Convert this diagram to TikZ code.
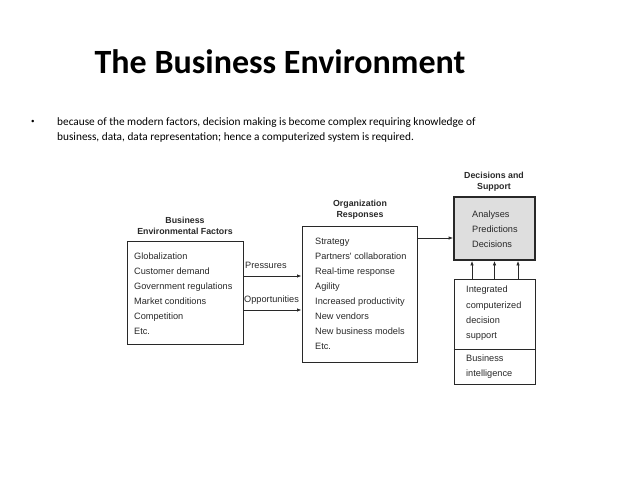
\documentclass[tikz,border=0pt]{standalone}
\usepackage{fontspec}
\setmainfont{Carlito}
\newfontfamily\diagfont{Liberation Sans}
\usetikzlibrary{arrows.meta,positioning,calc}
\definecolor{ink}{RGB}{40,40,40}
\definecolor{shade}{RGB}{222,222,222}
\tikzset{
  panel/.style={rectangle,draw=ink,line width=0.9pt,inner sep=0pt},
  hotpanel/.style={rectangle,draw=ink,line width=1.8pt,fill=shade,inner sep=0pt},
  item/.style={anchor=west,inner sep=0pt,yshift=-1.5pt,text height=6.6pt,text depth=2pt,text=ink,font=\diagfont\fontsize{9.2}{10}\selectfont},
  head/.style={align=center,inner sep=0pt,text=ink,font=\diagfont\bfseries\fontsize{8.8}{11}\selectfont},
  flow/.style={-{Latex[length=4.5pt,width=3.5pt]},line width=0.8pt,draw=ink},
}
\begin{document}
\begin{tikzpicture}[x=1pt,y=-1pt]
\useasboundingbox (0,0) rectangle (638,479);
% Heading
\node[font=\bfseries\fontsize{34}{38}\selectfont] (title) at (280,62) {The Business Environment};
\node[anchor=west,inner sep=0pt,font=\fontsize{7}{8}\selectfont] (dot) at (31,122) {\textbullet};
\node[anchor=north west,inner sep=0pt,align=left,font=\fontsize{11.3}{15}\selectfont] (intro) at (57,117)
  {because of the modern factors, decision making is become complex requiring knowledge of\\
   business, data, data representation; hence a computerized system is required.};

% --- Business environmental factors ---
\node[head] (envh) at (185,226) {Business\\Environmental Factors};
\node[panel,minimum width=116,minimum height=103] (env) at (185,292.5) {};
\node[item] (e1) at (134,256) {Globalization};
\node[item] (e2) at (134,271) {Customer demand};
\node[item] (e3) at (134,286) {Government regulations};
\node[item] (e4) at (134,301) {Market conditions};
\node[item] (e5) at (134,316) {Competition};
\node[item] (e6) at (134,331) {Etc.};

% --- Organization responses ---
\node[head] (orgh) at (360,210) {Organization\\Responses};
\node[panel,minimum width=115,minimum height=136] (org) at (359.5,294) {};
\node[item] (o1) at (315,241) {Strategy};
\node[item] (o2) at (315,256) {Partners' collaboration};
\node[item] (o3) at (315,271) {Real-time response};
\node[item] (o4) at (315,286) {Agility};
\node[item] (o5) at (315,301) {Increased productivity};
\node[item] (o6) at (315,316) {New vendors};
\node[item] (o7) at (315,331) {New business models};
\node[item] (o8) at (315,346) {Etc.};

% pressures and opportunities
\draw[flow] (env.east |- 0,276) -- (org.west |- 0,276);
\draw[flow] (env.east |- 0,310) -- (org.west |- 0,310);
\node[item] (pres) at (245,265) {Pressures};
\node[item] (opp) at (244,299) {Opportunities};

% --- Decisions and support ---
\node[head] (dech) at (494,182) {Decisions and\\Support};
\node[hotpanel,minimum width=81,minimum height=63] (dec) at (494.5,228.5) {};
\node[item] (d1) at (472,214) {Analyses};
\node[item] (d2) at (472,229) {Predictions};
\node[item] (d3) at (472,244) {Decisions};
\draw[flow] (org.east |- 0,238) -- (dec.west |- 0,238);

% --- Computerized support ---
\node[panel,minimum width=81,minimum height=105] (sup) at (494.5,331.5) {};
\draw[line width=0.9pt,draw=ink] (sup.west |- 0,349) -- (sup.east |- 0,349);
\node[item] (s1) at (466,289) {Integrated};
\node[item] (s2) at (466,305) {computerized};
\node[item] (s3) at (466,320) {decision};
\node[item] (s4) at (466,335) {support};
\node[item] (s5) at (466,358) {Business};
\node[item] (s6) at (466,373) {intelligence};
\draw[flow] (sup.north -| 472,0) -- (dec.south -| 472,0);
\draw[flow] (sup.north) -- (dec.south -| sup.north);
\draw[flow] (sup.north -| 518,0) -- (dec.south -| 518,0);
\end{tikzpicture}
\end{document}
